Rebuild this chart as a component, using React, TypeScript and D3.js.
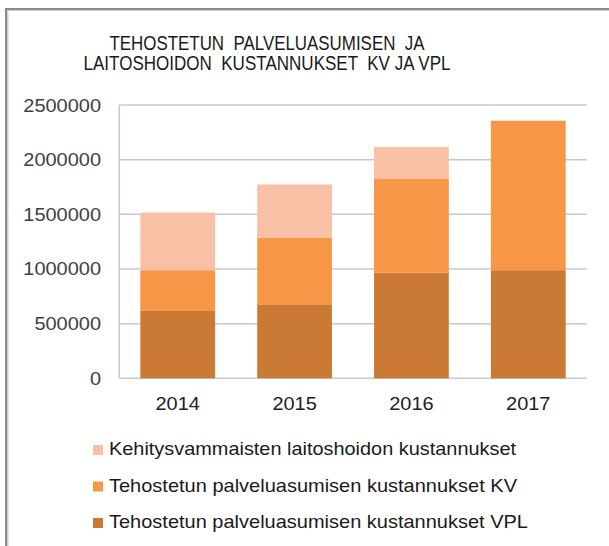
import React from "react";
import * as d3 from "d3";

const years = ["2014", "2015", "2016", "2017"];
const vplValues = [616000, 677000, 967000, 989000];
const kvValues = [373000, 610000, 861000, 1367000];
const laitosValues = [527000, 486000, 287000, 0];
const yTicks = [0, 500000, 1000000, 1500000, 2000000, 2500000];
const seriesNames = [
  "Kehitysvammaisten laitoshoidon kustannukset",
  "Tehostetun palveluasumisen kustannukset KV",
  "Tehostetun palveluasumisen kustannukset VPL",
];
const titleLines = ["TEHOSTETUN  PALVELUASUMISEN  JA", "LAITOSHOIDON  KUSTANNUKSET  KV JA VPL"];

const colors = { laitos: "#F8C0A4", kv: "#F79646", vpl: "#CB7A36" };

export default function App() {
  const W = 609, H = 546;
  const x = d3.scaleBand().domain(years).range([119.3, 586.7]).paddingInner(0.36).paddingOuter(0.18);
  const y = d3.scaleLinear().domain([0, 2500000]).range([378.3, 105]);

  const rows = years.map((yr, i) => ({ year: yr, vpl: vplValues[i], kv: kvValues[i], laitos: laitosValues[i] }));
  const stack = d3.stack<any>().keys(["vpl", "kv", "laitos"])(rows);
  const font = "Arial, 'Liberation Sans', sans-serif";
  const txt = "#404040";
  const digitW = 11.1;

  const legend = [
    { name: seriesNames[0], color: colors.laitos, w: 407 },
    { name: seriesNames[1], color: colors.kv, w: 408 },
    { name: seriesNames[2], color: colors.vpl, w: 419 },
  ];
  const titleW = [315, 367];

  return (
    <svg width={W} height={H} style={{ position: "absolute", left: 0, top: 0, background: "#fff" }}>
      <rect x={0} y={0} width={W} height={H} fill="#fff" />
      {/* frame */}
      <rect x={5} y={8} width={W} height={2} fill="#8a8a8a" />
      <rect x={5} y={10} width={W} height={1} fill="#cfcfcf" />
      <rect x={5} y={8} width={2} height={H} fill="#8a8a8a" />
      <rect x={7} y={10} width={1.5} height={H} fill="#cfcfcf" />

      {titleLines.map((t, i) => (
        <text key={i} x={267} y={50 + i * 20} textAnchor="middle" fontFamily={font} fontSize={19.5}
          fill="#1a1a1a" textLength={titleW[i]} lengthAdjust="spacingAndGlyphs" style={{ whiteSpace: "pre" }}>{t}</text>
      ))}

      {yTicks.map((t) => (
        <g key={t}>
          <line x1={119.3} x2={586.7} y1={y(t)} y2={y(t)} stroke="#C8C8C8" strokeWidth={1.5} />
          <text x={101} y={y(t) + 6.5} textAnchor="end" fontFamily={font} fontSize={19} fill={txt}
            textLength={String(t).length * digitW} lengthAdjust="spacingAndGlyphs">{t}</text>
        </g>
      ))}
      <line x1={119.3} x2={119.3} y1={105} y2={378.3} stroke="#C8C8C8" strokeWidth={1.5} />

      {stack.map((s, si) => (
        <g key={si} fill={(colors as any)[s.key]}>
          {s.map((d, i) => d[1] - d[0] > 0 ? (
            <rect key={i} x={x(years[i])} width={x.bandwidth()} y={y(d[1])} height={y(d[0]) - y(d[1])} />
          ) : null)}
        </g>
      ))}

      {years.map((yr) => (
        <text key={yr} x={(x(yr) as number) + x.bandwidth() / 2} y={410} textAnchor="middle" fontFamily={font} fontSize={19} fill="#222"
          textLength={yr.length * digitW} lengthAdjust="spacingAndGlyphs">{yr}</text>
      ))}

      {legend.map((l, i) => (
        <g key={i}>
          <rect x={93} y={445 + i * 36.5} width={10} height={10} fill={l.color} />
          <text x={109} y={455 + i * 36.5} fontFamily={font} fontSize={19} fill="#1a1a1a"
            textLength={l.w} lengthAdjust="spacingAndGlyphs">{l.name}</text>
        </g>
      ))}
    </svg>
  );
}
